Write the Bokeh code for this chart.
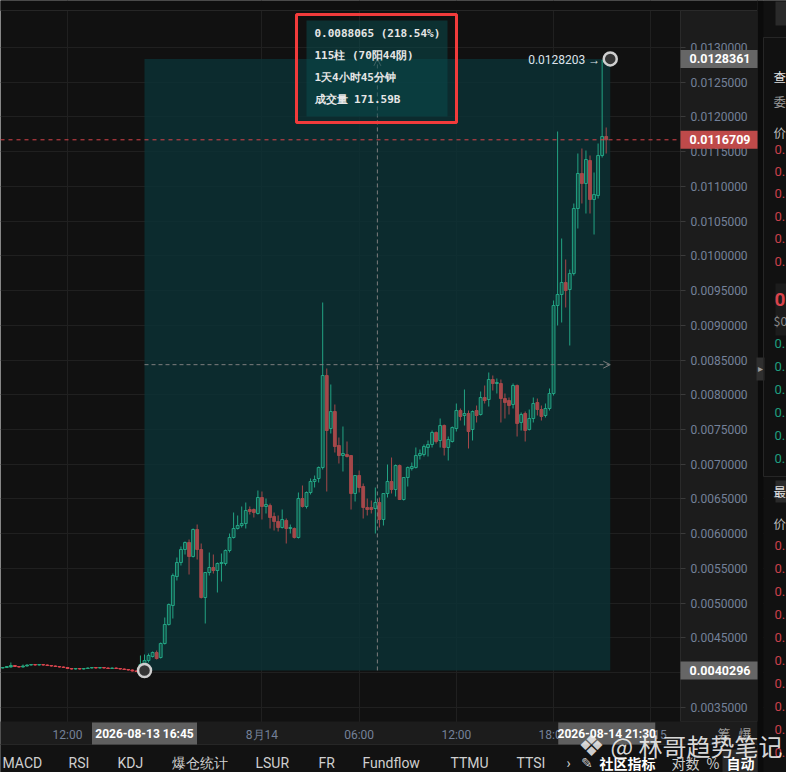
from bokeh.plotting import figure
from bokeh.models import (Range1d, FixedTicker, PrintfTickFormatter, BoxAnnotation,
                          Label, Arrow, OpenHead, ColumnDataSource)
from bokeh.embed import file_html
from bokeh.resources import INLINE

# ------------------------------------------------------------------ data
# 15-minute candles before the measured range (bars -35 .. -1)
pre_open = [0.0040648, 0.0040720, 0.0040792, 0.0041008, 0.0040864, 0.0040792, 0.0040936, 0.0041080, 0.0041152, 0.0041080,
            0.0041152, 0.0041080, 0.0041008, 0.0040936, 0.0040864, 0.0040792, 0.0040720, 0.0040576, 0.0040504, 0.0040576,
            0.0040504, 0.0040576, 0.0040648, 0.0040720, 0.0040648, 0.0040720, 0.0040648, 0.0040576, 0.0040648, 0.0040576,
            0.0040504, 0.0040432, 0.0040360, 0.0040216, 0.0040144]
pre_high = [0.0040790, 0.0040930, 0.0041440, 0.0041070, 0.0040930, 0.0041150, 0.0041150, 0.0041220, 0.0041220, 0.0041220,
            0.0041220, 0.0041150, 0.0041080, 0.0041000, 0.0040930, 0.0040860, 0.0040790, 0.0040650, 0.0040650, 0.0040650,
            0.0040650, 0.0040720, 0.0040790, 0.0040790, 0.0040790, 0.0040790, 0.0040720, 0.0040720, 0.0040720, 0.0040650,
            0.0040570, 0.0040500, 0.0040430, 0.0040290, 0.0042448]
pre_low = [0.0040580, 0.0040650, 0.0040720, 0.0040790, 0.0040720, 0.0040720, 0.0040860, 0.0041000, 0.0041000, 0.0041000,
           0.0041000, 0.0040930, 0.0040860, 0.0040790, 0.0040720, 0.0040650, 0.0040500, 0.0040430, 0.0040430, 0.0040430,
           0.0040430, 0.0040500, 0.0040580, 0.0040580, 0.0040580, 0.0040580, 0.0040500, 0.0040500, 0.0040500, 0.0040430,
           0.0040360, 0.0040290, 0.0040150, 0.0040070, 0.0040070]
pre_close = [0.0040720, 0.0040864, 0.0041008, 0.0040864, 0.0040792, 0.0040936, 0.0041080, 0.0041152, 0.0041080, 0.0041152,
             0.0041080, 0.0041008, 0.0040936, 0.0040864, 0.0040792, 0.0040720, 0.0040576, 0.0040504, 0.0040576, 0.0040504,
             0.0040576, 0.0040648, 0.0040720, 0.0040648, 0.0040720, 0.0040648, 0.0040576, 0.0040648, 0.0040576, 0.0040504,
             0.0040432, 0.0040360, 0.0040216, 0.0040144, 0.0041152]

# measured range: 2026-08-13 16:45 .. 2026-08-14 21:15 (bars 0 .. 114)
meas_open = [0.0041296, 0.0041728, 0.0042304, 0.0042880, 0.0042160, 0.0044176, 0.0046912, 0.0049648, 0.0053824, 0.0055840,
             0.0057712, 0.0058720, 0.0056704, 0.0060592, 0.0057712, 0.0050800, 0.0054400, 0.0055120, 0.0054688, 0.0055696,
             0.0055696, 0.0057568, 0.0059440, 0.0060736, 0.0061168, 0.0061456, 0.0063472, 0.0063472, 0.0062896, 0.0065200,
             0.0063904, 0.0064048, 0.0062464, 0.0061744, 0.0060880, 0.0061888, 0.0060736, 0.0060736, 0.0059440, 0.0065056,
             0.0063904, 0.0065920, 0.0067504, 0.0067936, 0.0069520, 0.0082768, 0.0075136, 0.0077584, 0.0072688, 0.0071248,
             0.0071392, 0.0071248, 0.0065776, 0.0068368, 0.0066784, 0.0063760, 0.0063760, 0.0063616, 0.0064480, 0.0062032,
             0.0065776, 0.0067504, 0.0066352, 0.0069808, 0.0064912, 0.0068080, 0.0069376, 0.0069520, 0.0071248, 0.0071392,
             0.0072400, 0.0072832, 0.0074560, 0.0073408, 0.0075568, 0.0072400, 0.0073264, 0.0075136, 0.0077728, 0.0077008,
             0.0077296, 0.0074992, 0.0077728, 0.0077152, 0.0079600, 0.0079312, 0.0082192, 0.0081616, 0.0081616, 0.0079456,
             0.0079168, 0.0078592, 0.0081328, 0.0076000, 0.0077296, 0.0074992, 0.0076576, 0.0078880, 0.0077872, 0.0077008,
             0.0078016, 0.0080176, 0.0092848, 0.0094432, 0.0096160, 0.0095152, 0.0097456, 0.0106816, 0.0111856, 0.0110416,
             0.0113728, 0.0108112, 0.0108688, 0.0114448, 0.0117184]
meas_high = [0.0042592, 0.0042736, 0.0043024, 0.0043168, 0.0044320, 0.0047920, 0.0049936, 0.0054256, 0.0056560, 0.0058144,
             0.0058864, 0.0059152, 0.0060736, 0.0061312, 0.0058576, 0.0054400, 0.0057280, 0.0056992, 0.0055840, 0.0057136,
             0.0057712, 0.0060016, 0.0063040, 0.0062608, 0.0063904, 0.0064480, 0.0063904, 0.0063616, 0.0066208, 0.0066064,
             0.0065056, 0.0064336, 0.0063040, 0.0062608, 0.0063472, 0.0062176, 0.0061312, 0.0060880, 0.0065920, 0.0066928,
             0.0066064, 0.0067936, 0.0068368, 0.0069664, 0.0093280, 0.0083776, 0.0081472, 0.0078592, 0.0073840, 0.0075424,
             0.0073264, 0.0071248, 0.0068368, 0.0069088, 0.0067216, 0.0065056, 0.0064768, 0.0066640, 0.0065200, 0.0065776,
             0.0069952, 0.0070960, 0.0069952, 0.0069952, 0.0068080, 0.0069664, 0.0070240, 0.0072400, 0.0072112, 0.0072832,
             0.0073408, 0.0074848, 0.0074704, 0.0076576, 0.0075712, 0.0073984, 0.0075424, 0.0078736, 0.0078016, 0.0080752,
             0.0077728, 0.0077728, 0.0078448, 0.0080464, 0.0081328, 0.0083200, 0.0082768, 0.0082336, 0.0082192, 0.0080176,
             0.0079600, 0.0081616, 0.0081472, 0.0077440, 0.0077584, 0.0077872, 0.0079600, 0.0079456, 0.0078448, 0.0078736,
             0.0080896, 0.0093568, 0.0117904, 0.0102496, 0.0099472, 0.0098032, 0.0107536, 0.0114736, 0.0115456, 0.0115168,
             0.0114448, 0.0112000, 0.0116176, 0.0128203, 0.0118480]
meas_low = [0.0040296, 0.0041440, 0.0042160, 0.0041872, 0.0042016, 0.0044032, 0.0046768, 0.0047776, 0.0053248, 0.0055408,
            0.0056992, 0.0054112, 0.0056560, 0.0056272, 0.0050656, 0.0047056, 0.0053968, 0.0054256, 0.0051520, 0.0053104,
            0.0055408, 0.0057280, 0.0059296, 0.0060592, 0.0060880, 0.0060736, 0.0062752, 0.0062320, 0.0062752, 0.0062032,
            0.0062896, 0.0060736, 0.0060448, 0.0060304, 0.0060736, 0.0058576, 0.0060016, 0.0059296, 0.0059296, 0.0063760,
            0.0063616, 0.0065632, 0.0066640, 0.0067360, 0.0069232, 0.0066064, 0.0074416, 0.0071680, 0.0070096, 0.0068944,
            0.0070960, 0.0063472, 0.0064624, 0.0065920, 0.0062176, 0.0062608, 0.0062896, 0.0060016, 0.0060880, 0.0061168,
            0.0065200, 0.0065776, 0.0065344, 0.0064912, 0.0064768, 0.0066784, 0.0069088, 0.0069376, 0.0070672, 0.0071104,
            0.0071104, 0.0072400, 0.0072976, 0.0072400, 0.0071248, 0.0070528, 0.0073120, 0.0074704, 0.0076288, 0.0075568,
            0.0072256, 0.0073408, 0.0076000, 0.0077008, 0.0078736, 0.0078304, 0.0080608, 0.0080176, 0.0076000, 0.0076576,
            0.0077152, 0.0078016, 0.0073984, 0.0074848, 0.0073264, 0.0074848, 0.0076000, 0.0077008, 0.0076288, 0.0076720,
            0.0077728, 0.0079888, 0.0089968, 0.0090400, 0.0092560, 0.0087088, 0.0097168, 0.0103936, 0.0107536, 0.0106096,
            0.0106096, 0.0103072, 0.0108256, 0.0114160, 0.0114736]
meas_close = [0.0041728, 0.0042448, 0.0042880, 0.0042016, 0.0044176, 0.0046912, 0.0049792, 0.0053968, 0.0055840, 0.0057712,
              0.0058720, 0.0056704, 0.0060592, 0.0057712, 0.0050800, 0.0054400, 0.0055120, 0.0054688, 0.0055696, 0.0055840,
              0.0057568, 0.0059440, 0.0060736, 0.0061168, 0.0061456, 0.0063328, 0.0063184, 0.0063040, 0.0065200, 0.0063904,
              0.0064192, 0.0062320, 0.0061744, 0.0060880, 0.0062032, 0.0060736, 0.0060880, 0.0059440, 0.0065056, 0.0063904,
              0.0065920, 0.0067504, 0.0067792, 0.0069520, 0.0082768, 0.0074848, 0.0077584, 0.0072544, 0.0071248, 0.0071536,
              0.0071104, 0.0065776, 0.0068368, 0.0066640, 0.0063760, 0.0063472, 0.0063472, 0.0064480, 0.0062032, 0.0065776,
              0.0067504, 0.0066352, 0.0069808, 0.0064912, 0.0068080, 0.0069520, 0.0069664, 0.0071248, 0.0071536, 0.0072544,
              0.0072832, 0.0074560, 0.0073264, 0.0075568, 0.0072400, 0.0073552, 0.0075280, 0.0077728, 0.0076864, 0.0077296,
              0.0074704, 0.0077584, 0.0077008, 0.0079600, 0.0079168, 0.0082192, 0.0081616, 0.0081760, 0.0079456, 0.0078880,
              0.0078448, 0.0081328, 0.0075856, 0.0077152, 0.0074848, 0.0076576, 0.0078736, 0.0077872, 0.0076864, 0.0078016,
              0.0080176, 0.0092848, 0.0094432, 0.0096160, 0.0095008, 0.0097456, 0.0106816, 0.0111856, 0.0110416, 0.0113872,
              0.0108112, 0.0108832, 0.0114448, 0.0117184, 0.0116709]

price_ticks = [0.0035, 0.0040, 0.0045, 0.0050, 0.0055, 0.0060, 0.0065, 0.0070, 0.0075, 0.0080,
               0.0085, 0.0090, 0.0095, 0.0100, 0.0105, 0.0110, 0.0115, 0.0120, 0.0125, 0.0130]
time_tick_bars = [-19, 29, 53, 77, 101, 125]
time_tick_labels = ["12:00", "8月14", "06:00", "12:00", "18:00", "8月15"]

measure_bars = [0, 115]
measure_prices = [0.0040296, 0.0128361]
peak_price = 0.0128203
last_price = 0.0116709
measure_stats = ["0.0088065 (218.54%)", "115柱 (70阳44阴)", "1天4小时45分钟", "成交量 171.59B"]
measure_start_text = "2026-08-13 16:45"
measure_end_text = "2026-08-14 21:30"

indicator_tabs = ["MACD", "RSI", "KDJ", "爆仓统计", "LSUR", "FR", "Fundflow", "TTMU", "TTSI", "›", "✎"]
toolbar_right = ["社区指标", "对数", "%", "自动"]
watermark = "@ 林哥趋势笔记"

# ------------------------------------------------------------------ layout
W, H = 786, 772
BAR_PX = 4.05                 # pixels per 15-minute bar
BAR0_X = 144                  # pixel x of bar 0
PRICE_PX = 0.0000144          # price per pixel
PRICE_AT_TOP = 0.0136768      # price at pixel y = 0
CHART_RIGHT_X, CHART_BOTTOM_Y = 680, 721

x0 = -BAR0_X / BAR_PX
x1 = x0 + W / BAR_PX
y1 = PRICE_AT_TOP
y0 = PRICE_AT_TOP - H * PRICE_PX
axis_bar = x0 + CHART_RIGHT_X / BAR_PX
axis_price = PRICE_AT_TOP - CHART_BOTTOM_Y * PRICE_PX


def sx(X):   # pixel x -> frame screen x
    return X


def sy(Y):   # pixel y (from top) -> frame screen y (up from bottom)
    return H - Y


def sbox(l, r, t, b, **kw):
    return BoxAnnotation(left=sx(l), right=sx(r), top=sy(t), bottom=sy(b),
                         left_units="screen", right_units="screen", top_units="screen", bottom_units="screen", **kw)


def slabel(X, Y, text, **kw):
    kw.setdefault("text_baseline", "middle")
    return Label(x=sx(X), y=sy(Y), x_units="screen", y_units="screen", text=text, **kw)


p = figure(width=W, height=H, output_backend="svg", toolbar_location=None, title=None,
           x_range=Range1d(x0, x1), y_range=Range1d(y0, y1),
           x_axis_location="below", y_axis_location="right",
           min_border_left=0, min_border_right=0, min_border_top=0, min_border_bottom=0,
           background_fill_color="#111111", border_fill_color="#111111", outline_line_color=None)

# axes, pinned at the chart-area edges
yax = p.yaxis[0]
yax.fixed_location = axis_bar
yax.ticker = FixedTicker(ticks=price_ticks)
yax.formatter = PrintfTickFormatter(format="%.7f")
yax.major_label_text_color = "#748199"
yax.major_label_text_font = "Roboto"
yax.major_label_text_font_size = "12px"
yax.axis_line_color = None
yax.major_tick_line_color = "#3a3a3a"
yax.major_tick_out = 5
yax.major_tick_in = 0
yax.minor_tick_line_color = None
yax.major_label_standoff = 5

xax = p.xaxis[0]
xax.fixed_location = axis_price
xax.ticker = FixedTicker(ticks=time_tick_bars)
xax.major_label_overrides = {b: t for b, t in zip(time_tick_bars, time_tick_labels)}
xax.major_label_text_color = "#748199"
xax.major_label_text_font = "Roboto"
xax.major_label_text_font_size = "12px"
xax.axis_line_color = None
xax.major_tick_line_color = None
xax.minor_tick_line_color = None
xax.major_tick_out = 0
xax.major_label_standoff = 6

p.xgrid.ticker = FixedTicker(ticks=time_tick_bars)
p.ygrid.ticker = FixedTicker(ticks=price_ticks)
p.xgrid.grid_line_color = "#202020"
p.ygrid.grid_line_color = "#202020"

# measure overlay (under candles, over grid)
p.add_layout(BoxAnnotation(left=measure_bars[0], right=measure_bars[1],
                           bottom=measure_prices[0], top=measure_prices[1],
                           fill_color="#0b3236", fill_alpha=0.8, line_color=None, level="underlay"))

# panels around the chart area (underlay, below axis labels)
p.add_layout(sbox(0, 757, -5, 10, fill_color="#0f0f0f", fill_alpha=1, line_color="#262626",
                  line_alpha=1, level="underlay"))
p.add_layout(sbox(680, 757, 10, 721, fill_color="#1c1c1c", fill_alpha=1, line_color="#2a2a2a",
                  line_alpha=1, level="underlay"))
p.add_layout(sbox(-5, 757, 721, 744, fill_color="#1c1c1c", fill_alpha=1, line_color=None, level="underlay"))
p.add_layout(sbox(-5, 757, 744, 800, fill_color="#121212", fill_alpha=1, line_color="#262626",
                  line_alpha=1, level="underlay"))
p.add_layout(sbox(757, 763, -5, 800, fill_color="#0b0b0b", fill_alpha=1, line_color=None, level="underlay"))
p.add_layout(sbox(763, 800, -5, 800, fill_color="#111111", fill_alpha=1, line_color=None, level="underlay"))

# candles
opens = pre_open + meas_open
highs = pre_high + meas_high
lows = pre_low + meas_low
closes = pre_close + meas_close
bars = list(range(-len(pre_open), len(meas_open)))
fills, lines = [], []
for b, o, c in zip(bars, opens, closes):
    up = c >= o
    if b < 0:
        col = "#26a57f" if up else "#d9454e"
        fills.append(col)
        lines.append(col)
    else:
        fills.append("#134f46" if up else "#a5484a")
        lines.append("#22a383" if up else "#a5484a")
src = ColumnDataSource(dict(x=bars, o=opens, h=highs, l=lows, c=closes,
                            top=[max(a, b) for a, b in zip(opens, closes)],
                            bottom=[min(a, b) for a, b in zip(opens, closes)],
                            fill=fills, line=lines))
p.segment(x0="x", y0="h", x1="x", y1="l", line_color="line", line_width=1, source=src)
p.vbar(x="x", width=0.7, top="top", bottom="bottom", fill_color="fill", line_color="line",
       line_width=1, source=src)

# last price line across the chart area
p.segment(x0=[x0], y0=[last_price], x1=[axis_bar], y1=[last_price], line_color="#d9434b",
          line_dash="4 4", line_width=1)

# measure mid-lines with arrows
mid_bar = (measure_bars[0] + measure_bars[1]) / 2
mid_price = (measure_prices[0] + measure_prices[1]) / 2
p.add_layout(Arrow(x_start=mid_bar, y_start=measure_prices[0], x_end=mid_bar, y_end=measure_prices[1],
                   line_color="#7d7d7d", line_dash="4 3", line_width=1,
                   end=OpenHead(size=7, line_color="#7d7d7d", line_width=1)))
p.add_layout(Arrow(x_start=measure_bars[0], y_start=mid_price, x_end=measure_bars[1], y_end=mid_price,
                   line_color="#7d7d7d", line_dash="4 3", line_width=1,
                   end=OpenHead(size=7, line_color="#7d7d7d", line_width=1)))

# endpoints
p.scatter(measure_bars, measure_prices, marker="circle", size=13, fill_color="#363636",
          line_color="#cfcfcf", line_width=2.5)
p.add_layout(Label(x=measure_bars[1], y=peak_price, x_offset=-10, text=f"{peak_price:.7f} →",
                   text_align="right", text_baseline="middle", text_font="Roboto",
                   text_font_size="12px", text_color="#dde2ea"))

# tooltip of the measure tool
p.add_layout(sbox(306, 447, 20, 116, fill_color="#0a4a4c", fill_alpha=0.55, line_color=None))
for i, t in enumerate(measure_stats):
    p.add_layout(slabel(314, 33 + 22 * i, t, text_font="DejaVu Sans Mono", text_font_style="bold",
                        text_font_size="11px", text_color="#e6e6e6"))
p.add_layout(sbox(296, 456, 14, 122, fill_alpha=0, line_color="#f23b3b", line_alpha=1, line_width=3))

# price-axis highlight tags
for price, col in [(measure_prices[1], "#666666"), (last_price, "#bf4a4a"), (measure_prices[0], "#666666")]:
    p.add_layout(BoxAnnotation(left=sx(680), right=sx(757), left_units="screen", right_units="screen",
                               top=price + 9 * PRICE_PX, bottom=price - 9 * PRICE_PX,
                               fill_color=col, fill_alpha=1, line_color=None))
    p.add_layout(Label(x=sx(689), x_units="screen", y=price, text=f"{price:.7f}", text_baseline="middle",
                       text_font="Roboto", text_font_style="bold", text_font_size="12.5px",
                       text_color="#ffffff"))

# time-axis highlight tags
for bar, txt, lpx, rpx, off in [(measure_bars[0], measure_start_text, -52.5, 52.5, 0),
                                (measure_bars[1], measure_end_text, -52, 45, -3.5)]:
    p.add_layout(BoxAnnotation(left=bar + lpx / BAR_PX, right=bar + rpx / BAR_PX,
                               top=sy(722), bottom=sy(744), top_units="screen", bottom_units="screen",
                               fill_color="#5f5f5f", fill_alpha=1, line_color=None))
    p.add_layout(Label(x=bar, x_offset=off, y=sy(733), y_units="screen", text=txt, text_align="center",
                       text_baseline="middle", text_font="Roboto", text_font_style="bold",
                       text_font_size="12px", text_color="#ffffff"))
for txt, X in [("筹", 717), ("爆", 738)]:
    p.add_layout(slabel(X, 733, txt, text_font="Noto Sans CJK SC", text_font_size="13px", text_color="#9a9a9a"))

# bottom indicator toolbar
tab_x = [2, 68, 117, 171, 255, 318, 362, 450, 516, 566, 580]
for txt, X in zip(indicator_tabs, tab_x):
    p.add_layout(slabel(X, 762, txt, text_font="Roboto", text_font_size="14px", text_color="#cfcfcf"))
p.add_layout(sbox(722, 757, 749, 775, fill_color="#2a2a2a", fill_alpha=1, line_color=None))
for txt, X, bold in zip(toolbar_right, [599, 671, 706, 726], [True, False, False, True]):
    p.add_layout(slabel(X, 762, txt, text_font="Noto Sans CJK SC", text_font_size="14px",
                        text_font_style="bold" if bold else "normal",
                        text_color="#ffffff" if bold else "#cfcfcf"))

# right side panel (order book, cut by the window)
p.add_layout(sbox(756, 764, 357, 380, fill_color="#2f2f2f", fill_alpha=1, line_color=None))
p.add_layout(slabel(760, 368, "▸", text_align="center", text_font_size="10px", text_color="#9a9a9a"))
for top, bot, col in [(1, 25, "#2a2a2a"), (283, 335, "#1c1c1c"), (480, 502, "#2a2a2a")]:
    p.add_layout(sbox(775, 800, top, bot, fill_color=col, fill_alpha=1, line_color=None))
p.add_layout(sbox(763, 800, 37, 476, fill_alpha=0, line_color="#262626", line_alpha=1))
panel_texts = [("查", 76, "#e0e0e0"), ("委", 101, "#9a9a9a"), ("价", 132, "#bbbbbb"), ("最", 491, "#e0e0e0"),
               ("价", 523, "#bbbbbb"), ("$0", 320, "#8a8a8a")]
for txt, Y, col in panel_texts:
    p.add_layout(slabel(773, Y, txt, text_font="Noto Sans CJK SC", text_font_size="12.5px", text_color=col))
p.add_layout(slabel(774, 299, "0", text_font="Roboto", text_font_style="bold",
                    text_font_size="19px", text_color="#d9434b"))
for Y in [149, 171, 193, 216, 238, 261, 545, 568, 591, 614, 637, 660, 683, 706, 729, 752]:
    p.add_layout(slabel(774, Y, "0.", text_font="Roboto", text_font_size="13px", text_color="#c9404a"))
for Y in [343, 366, 389, 412, 435, 458]:
    p.add_layout(slabel(774, Y, "0.", text_font="Roboto", text_font_size="13px", text_color="#1f9e7e"))

# watermark
p.add_layout(slabel(591, 745, "❖", text_align="center", text_font="DejaVu Sans", text_font_size="30px",
                    text_color="#f0f0f0", text_alpha=0.85))
p.add_layout(slabel(610, 745, watermark, text_font="Noto Sans CJK SC", text_font_size="24px",
                    text_color="#f2f2f2", text_alpha=0.9))

open("out.html", "w").write(file_html(p, INLINE))
